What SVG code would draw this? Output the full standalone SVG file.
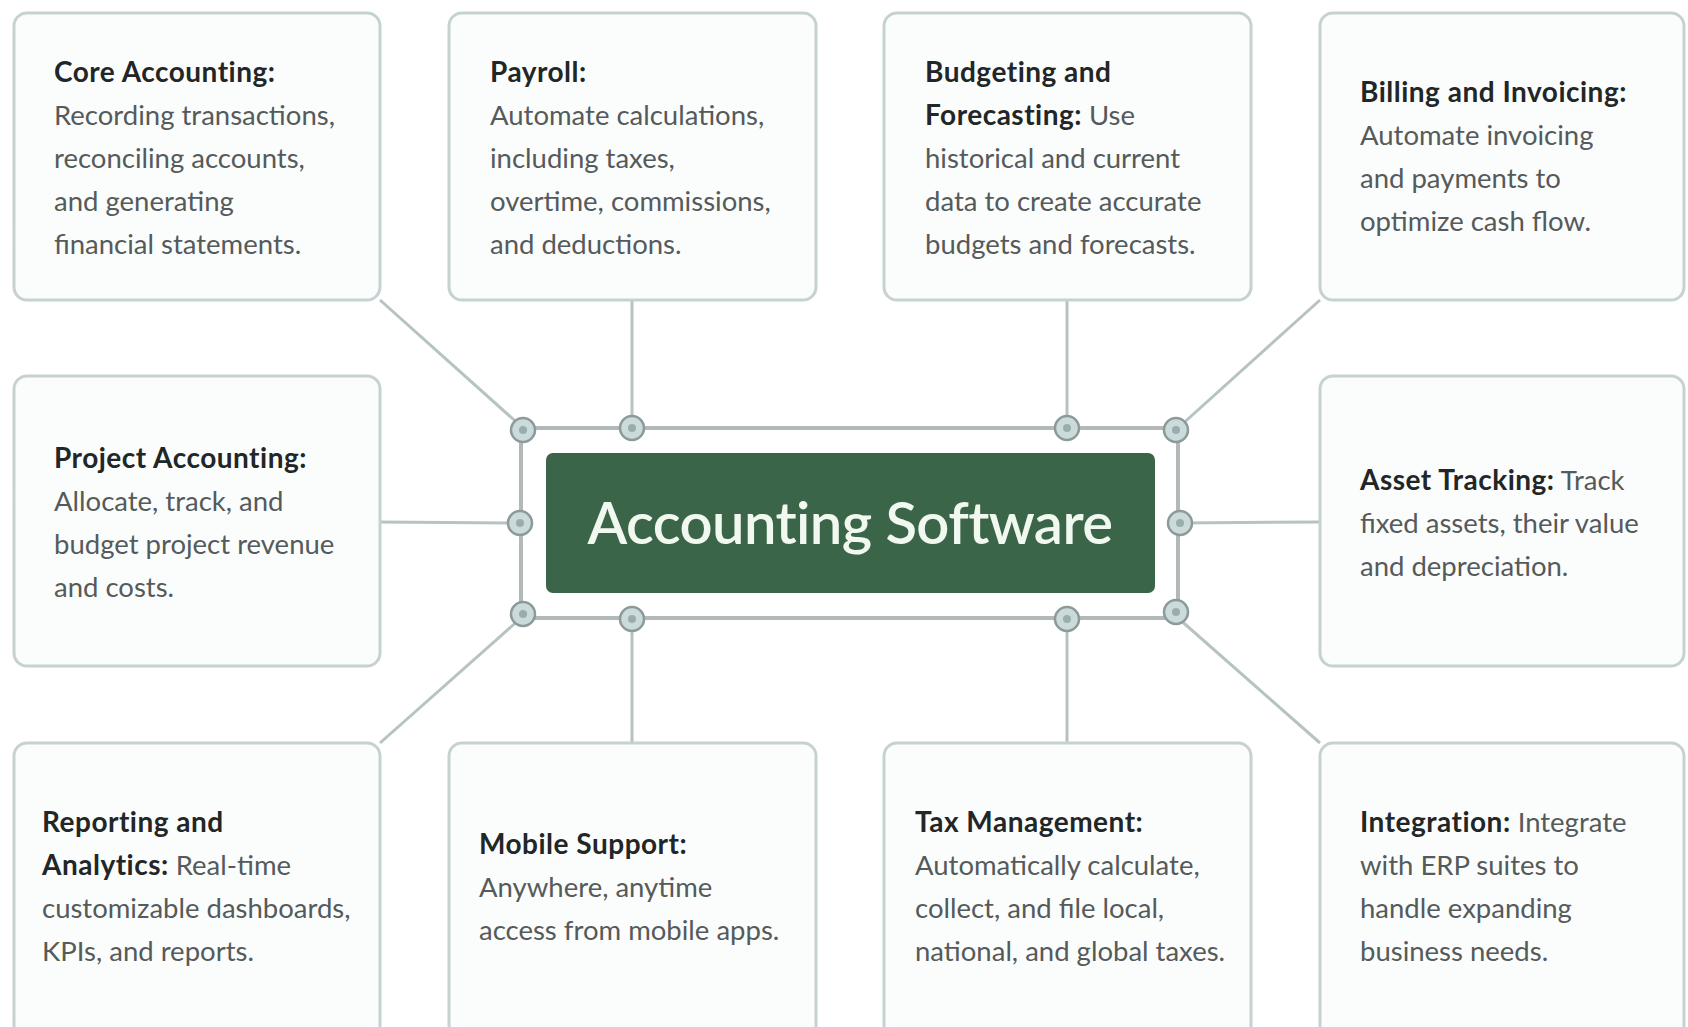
<svg xmlns="http://www.w3.org/2000/svg" width="1688" height="1027" viewBox="0 0 1688 1027">
<style>
.box{fill:#fbfdfd;stroke:#c6d1d1;stroke-width:3}
.t{font-family:Lato,"Noto Sans","Liberation Sans",sans-serif;font-size:27.5px;fill:#555a5a}
.h{font-weight:bold;fill:#222626;font-size:28px;letter-spacing:0.5px}
.con{stroke:#b7c3c3;stroke-width:3;fill:none}
.frame{fill:none;stroke:#b3b9b9;stroke-width:4}
.hd{fill:#cbdada;stroke:#8c9a9a;stroke-width:2.5}
.hdc{fill:#9aadad}
.title{font-family:Lato,"Noto Sans","Liberation Sans",sans-serif;font-size:58px;font-weight:600;letter-spacing:-0.6px;fill:#f1f8f0}
</style>
<rect width="1688" height="1027" fill="#ffffff"/>
<g id="connectors">
<line class="con" x1="380" y1="300" x2="523" y2="428"/>
<line class="con" x1="632" y1="300" x2="632" y2="428"/>
<line class="con" x1="1067" y1="300" x2="1067" y2="428"/>
<line class="con" x1="1320" y1="300" x2="1178" y2="428"/>
<line class="con" x1="380" y1="522" x2="521" y2="523"/>
<line class="con" x1="1320" y1="522" x2="1178" y2="523"/>
<line class="con" x1="380" y1="743" x2="521" y2="618"/>
<line class="con" x1="632" y1="743" x2="632" y2="618"/>
<line class="con" x1="1067" y1="743" x2="1067" y2="618"/>
<line class="con" x1="1320" y1="743" x2="1178" y2="618"/>
</g>
<g id="core-accounting">
<rect class="box" x="14" y="13" width="366" height="287" rx="13"/>
<text class="t" x="54"><tspan class="h" y="82">Core Accounting:</tspan><tspan x="54" y="125">Recording transactions,</tspan><tspan x="54" y="168">reconciling accounts,</tspan><tspan x="54" y="211">and generating</tspan><tspan x="54" y="254">financial statements.</tspan></text>
</g>
<g id="payroll">
<rect class="box" x="449" y="13" width="367" height="287" rx="13"/>
<text class="t" x="490"><tspan class="h" y="82">Payroll:</tspan><tspan x="490" y="125">Automate calculations,</tspan><tspan x="490" y="168">including taxes,</tspan><tspan x="490" y="211">overtime, commissions,</tspan><tspan x="490" y="254">and deductions.</tspan></text>
</g>
<g id="budgeting">
<rect class="box" x="884" y="13" width="367" height="287" rx="13"/>
<text class="t" x="925"><tspan class="h" y="82">Budgeting and</tspan><tspan x="925" y="125" class="h">Forecasting:</tspan><tspan> Use</tspan><tspan x="925" y="168">historical and current</tspan><tspan x="925" y="211">data to create accurate</tspan><tspan x="925" y="254">budgets and forecasts.</tspan></text>
</g>
<g id="billing">
<rect class="box" x="1320" y="13" width="364" height="287" rx="13"/>
<text class="t" x="1360"><tspan class="h" y="102">Billing and Invoicing:</tspan><tspan x="1360" y="145">Automate invoicing</tspan><tspan x="1360" y="188">and payments to</tspan><tspan x="1360" y="231">optimize cash flow.</tspan></text>
</g>
<g id="project-accounting">
<rect class="box" x="14" y="376" width="366" height="290" rx="13"/>
<text class="t" x="54"><tspan class="h" y="468">Project Accounting:</tspan><tspan x="54" y="511">Allocate, track, and</tspan><tspan x="54" y="554">budget project revenue</tspan><tspan x="54" y="597">and costs.</tspan></text>
</g>
<g id="asset-tracking">
<rect class="box" x="1320" y="376" width="364" height="290" rx="13"/>
<text class="t" x="1360"><tspan class="h" y="490">Asset Tracking:</tspan><tspan> Track</tspan><tspan x="1360" y="533">fixed assets, their value</tspan><tspan x="1360" y="576">and depreciation.</tspan></text>
</g>
<g id="reporting">
<rect class="box" x="14" y="743" width="366" height="300" rx="13"/>
<text class="t" x="42"><tspan class="h" y="832">Reporting and</tspan><tspan x="42" y="875" class="h">Analytics:</tspan><tspan> Real-time</tspan><tspan x="42" y="918">customizable dashboards,</tspan><tspan x="42" y="961">KPIs, and reports.</tspan></text>
</g>
<g id="mobile-support">
<rect class="box" x="449" y="743" width="367" height="300" rx="13"/>
<text class="t" x="479"><tspan class="h" y="854">Mobile Support:</tspan><tspan x="479" y="897">Anywhere, anytime</tspan><tspan x="479" y="940">access from mobile apps.</tspan></text>
</g>
<g id="tax-management">
<rect class="box" x="884" y="743" width="367" height="300" rx="13"/>
<text class="t" x="915"><tspan class="h" y="832">Tax Management:</tspan><tspan x="915" y="875">Automatically calculate,</tspan><tspan x="915" y="918">collect, and file local,</tspan><tspan x="915" y="961">national, and global taxes.</tspan></text>
</g>
<g id="integration">
<rect class="box" x="1320" y="743" width="364" height="300" rx="13"/>
<text class="t" x="1360"><tspan class="h" y="832">Integration:</tspan><tspan> Integrate</tspan><tspan x="1360" y="875">with ERP suites to</tspan><tspan x="1360" y="918">handle expanding</tspan><tspan x="1360" y="961">business needs.</tspan></text>
</g>
<g id="accounting-software">
<rect class="frame" x="521" y="428" width="657" height="190"/>
<rect x="546" y="453" width="609" height="140" rx="7" fill="#3b6548"/>
<text class="title" x="850" y="544" text-anchor="middle">Accounting Software</text>
<g id="handles">
<circle class="hd" cx="523" cy="430" r="12"/><circle class="hdc" cx="523" cy="430" r="4"/>
<circle class="hd" cx="632" cy="428" r="12"/><circle class="hdc" cx="632" cy="428" r="4"/>
<circle class="hd" cx="1067" cy="428" r="12"/><circle class="hdc" cx="1067" cy="428" r="4"/>
<circle class="hd" cx="1176" cy="430" r="12"/><circle class="hdc" cx="1176" cy="430" r="4"/>
<circle class="hd" cx="520" cy="523" r="12"/><circle class="hdc" cx="520" cy="523" r="4"/>
<circle class="hd" cx="1180" cy="523" r="12"/><circle class="hdc" cx="1180" cy="523" r="4"/>
<circle class="hd" cx="523" cy="614" r="12"/><circle class="hdc" cx="523" cy="614" r="4"/>
<circle class="hd" cx="632" cy="619" r="12"/><circle class="hdc" cx="632" cy="619" r="4"/>
<circle class="hd" cx="1067" cy="619" r="12"/><circle class="hdc" cx="1067" cy="619" r="4"/>
<circle class="hd" cx="1176" cy="612" r="12"/><circle class="hdc" cx="1176" cy="612" r="4"/>
</g>
</g>
</svg>
